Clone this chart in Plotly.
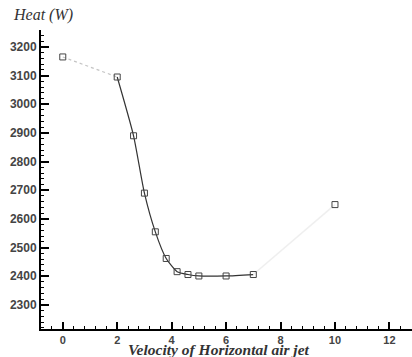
import plotly.graph_objects as go

velocity = [0, 2, 2.6, 3.0, 3.4, 3.8, 4.2, 4.6, 5.0, 6.0, 7.0, 10.0]
heat = [3165, 3095, 2890, 2690, 2555, 2462, 2416, 2406, 2401, 2401, 2406, 2650]

x_ticks = [0, 2, 4, 6, 8, 10, 12]
y_ticks = [2300, 2400, 2500, 2600, 2700, 2800, 2900, 3000, 3100, 3200]

fig = go.Figure()
# faint segment 0 -> 2
fig.add_trace(go.Scatter(x=velocity[0:2], y=heat[0:2], mode="lines",
                         line=dict(color="#c4c4c4", width=1.2, dash="dot"), showlegend=False, hoverinfo="skip"))
# main solid curve 2 -> 7
fig.add_trace(go.Scatter(x=velocity[1:11], y=heat[1:11], mode="lines",
                         line=dict(color="#333333", width=1.2, shape="spline", smoothing=0.6),
                         showlegend=False, hoverinfo="skip"))
# very faint segment 7 -> 10
fig.add_trace(go.Scatter(x=velocity[10:12], y=heat[10:12], mode="lines",
                         line=dict(color="#efefef", width=1.5), showlegend=False, hoverinfo="skip"))
# markers
fig.add_trace(go.Scatter(x=velocity, y=heat, mode="markers",
                         marker=dict(symbol="square-open", size=6, color="#444444", line=dict(width=1)),
                         showlegend=False))

y_font = dict(family="Liberation Sans, Arial, sans-serif", size=12, color="#444444", weight="bold")
x_font = dict(family="Liberation Sans, Arial, sans-serif", size=11, color="#444444", weight="bold")

fig.update_layout(
    width=412, height=357,
    margin=dict(l=41, r=0, t=30, b=28),
    paper_bgcolor="white", plot_bgcolor="white",
    xaxis=dict(range=[-0.8, 12.83], tickvals=x_ticks, ticktext=[str(v) for v in x_ticks],
               automargin=False,
               showgrid=False, zeroline=False, showline=True, linecolor="black", linewidth=2,
               ticks="inside", ticklen=7, tickwidth=1.5, tickcolor="black",
               minor=dict(dtick=0.4, tick0=0, ticks="inside", ticklen=3, tickcolor="black", tickwidth=1),
               tickfont=x_font),
    yaxis=dict(range=[2216, 3259], tickvals=y_ticks, ticktext=[str(v) for v in y_ticks],
               automargin=False,
               showgrid=False, zeroline=False, showline=True, linecolor="black", linewidth=2,
               ticks="inside", ticklen=8, tickwidth=1.5, tickcolor="black",
               minor=dict(dtick=20, tick0=2300, ticks="inside", ticklen=3, tickcolor="black", tickwidth=1),
               tickfont=y_font),
    annotations=[
        dict(text="<i>Heat (W)</i>", xref="paper", yref="paper", x=-30 / 371, y=1 + 15 / 299,
             xanchor="left", yanchor="middle", showarrow=False,
             font=dict(family="Liberation Serif, Times New Roman, serif", size=16, color="#333333")),
        dict(text="<i><b>Velocity of Horizontal air jet</b></i>", xref="paper", yref="paper",
             x=(219 - 41) / 371, y=-20 / 299, xanchor="center", yanchor="middle", showarrow=False,
             font=dict(family="Liberation Serif, Times New Roman, serif", size=15.5, color="#333333")),
    ],
)

fig.write_html("out.html", config={"displayModeBar": False},
               post_script="document.body.style.margin='0';document.body.style.overflow='hidden';")
